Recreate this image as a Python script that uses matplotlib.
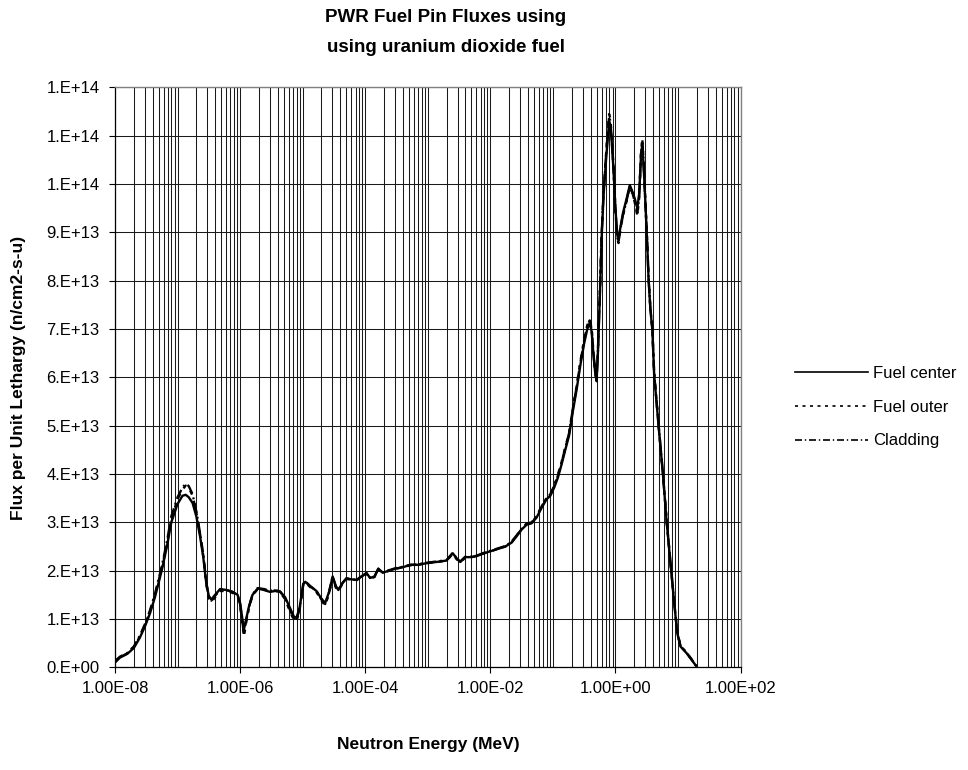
import numpy as np
import matplotlib
matplotlib.use("Agg")
import matplotlib.pyplot as plt
from matplotlib.ticker import FixedLocator, LogLocator, MultipleLocator, FuncFormatter, NullFormatter

plt.rcParams['font.family'] = ['Liberation Sans', 'DejaVu Sans']

# Neutron energy grid (MeV)
energy = [
    1.00e-08, 1.20e-08, 1.58e-08, 2.00e-08, 2.51e-08, 3.02e-08, 3.63e-08, 4.37e-08,
    5.62e-08, 6.76e-08, 7.94e-08, 1.00e-07, 1.20e-07, 1.35e-07, 1.51e-07, 1.74e-07,
    2.00e-07, 2.29e-07, 2.57e-07, 2.88e-07, 3.16e-07, 3.47e-07, 3.98e-07, 4.79e-07,
    6.03e-07, 7.59e-07, 9.12e-07, 1.00e-06, 1.10e-06, 1.15e-06, 1.23e-06, 1.38e-06,
    1.58e-06, 1.91e-06, 2.40e-06, 3.02e-06, 3.63e-06, 4.37e-06, 5.25e-06, 6.31e-06,
    7.24e-06, 7.94e-06, 8.91e-06, 1.02e-05, 1.10e-05, 1.32e-05, 1.66e-05, 2.00e-05,
    2.29e-05, 2.63e-05, 3.02e-05, 3.39e-05, 3.72e-05, 4.37e-05, 5.01e-05, 6.03e-05,
    7.24e-05, 8.71e-05, 1.05e-04, 1.20e-04, 1.41e-04, 1.62e-04, 1.91e-04, 2.29e-04,
    3.02e-04, 3.98e-04, 5.25e-04, 6.92e-04, 9.12e-04, 1.20e-03, 1.58e-03, 2.00e-03,
    2.29e-03, 2.51e-03, 2.88e-03, 3.31e-03, 3.98e-03, 5.01e-03, 6.31e-03, 7.94e-03,
    1.00e-02, 1.32e-02, 1.74e-02, 2.19e-02, 2.63e-02, 3.16e-02, 3.80e-02, 4.57e-02,
    5.50e-02, 6.61e-02, 7.94e-02, 9.12e-02, 1.05e-01, 1.20e-01, 1.38e-01, 1.58e-01,
    1.82e-01, 2.09e-01, 2.40e-01, 2.75e-01, 3.16e-01, 3.55e-01, 3.89e-01, 4.17e-01,
    4.47e-01, 4.79e-01, 5.01e-01, 5.25e-01, 5.62e-01, 6.03e-01, 6.46e-01, 7.08e-01,
    7.59e-01, 7.94e-01, 8.32e-01, 8.71e-01, 9.33e-01, 1.00e+00, 1.07e+00, 1.12e+00,
    1.20e+00, 1.32e+00, 1.51e+00, 1.70e+00, 1.86e+00, 2.04e+00, 2.24e+00, 2.40e+00,
    2.57e+00, 2.69e+00, 2.82e+00, 3.02e+00, 3.24e+00, 3.39e+00, 3.63e+00, 3.89e+00,
    4.17e+00, 4.90e+00, 5.75e+00, 6.61e+00, 7.59e+00, 8.71e+00, 9.77e+00, 1.10e+01,
    1.38e+01, 1.66e+01, 1.95e+01,
]

# Flux per unit lethargy, units of 1e13 n/cm2-s-u
fuel_center = [
    0.10, 0.20, 0.28, 0.40, 0.62, 0.85, 1.12, 1.46,
    2.02, 2.50, 3.00, 3.38, 3.55, 3.57, 3.52, 3.40,
    3.12, 2.71, 2.29, 1.74, 1.48, 1.40, 1.50, 1.62,
    1.60, 1.56, 1.50, 1.33, 0.95, 0.78, 0.95, 1.25,
    1.50, 1.63, 1.60, 1.56, 1.58, 1.56, 1.45, 1.22,
    1.05, 1.02, 1.22, 1.72, 1.77, 1.68, 1.58, 1.42,
    1.33, 1.55, 1.88, 1.68, 1.60, 1.75, 1.84, 1.82,
    1.81, 1.88, 1.95, 1.85, 1.88, 2.04, 1.96, 1.99,
    2.04, 2.07, 2.12, 2.12, 2.15, 2.17, 2.19, 2.21,
    2.30, 2.36, 2.26, 2.18, 2.28, 2.28, 2.31, 2.36,
    2.40, 2.45, 2.50, 2.58, 2.71, 2.85, 2.95, 2.98,
    3.10, 3.30, 3.48, 3.55, 3.72, 3.92, 4.20, 4.50,
    4.80, 5.30, 5.75, 6.25, 6.70, 7.00, 7.13, 6.95,
    6.45, 6.05, 5.95, 6.50, 7.60, 8.90, 9.75, 10.50,
    11.00, 11.30, 11.20, 10.90, 10.30, 9.50, 8.95, 8.85,
    9.10, 9.40, 9.70, 9.98, 9.85, 9.70, 9.50, 9.80,
    10.60, 10.80, 10.40, 9.60, 8.70, 8.03, 7.40, 7.00,
    6.05, 5.00, 4.00, 3.00, 2.16, 1.33, 0.70, 0.43,
    0.29, 0.15, 0.03,
]

fuel_outer = [
    0.12, 0.21, 0.29, 0.42, 0.64, 0.88, 1.15, 1.50,
    2.06, 2.55, 3.06, 3.48, 3.68, 3.76, 3.72, 3.55,
    3.20, 2.76, 2.32, 1.72, 1.42, 1.35, 1.45, 1.58,
    1.58, 1.54, 1.47, 1.28, 0.85, 0.63, 0.88, 1.22,
    1.49, 1.62, 1.61, 1.57, 1.59, 1.55, 1.41, 1.15,
    0.98, 0.95, 1.18, 1.70, 1.76, 1.66, 1.56, 1.38,
    1.28, 1.52, 1.86, 1.65, 1.58, 1.74, 1.83, 1.81,
    1.80, 1.87, 1.94, 1.83, 1.87, 2.03, 1.95, 1.99,
    2.04, 2.07, 2.11, 2.12, 2.15, 2.17, 2.19, 2.21,
    2.29, 2.35, 2.24, 2.17, 2.27, 2.28, 2.31, 2.36,
    2.40, 2.45, 2.50, 2.59, 2.72, 2.86, 2.97, 3.00,
    3.12, 3.33, 3.50, 3.58, 3.76, 3.97, 4.25, 4.55,
    4.86, 5.36, 5.82, 6.32, 6.78, 7.08, 7.20, 7.02,
    6.50, 6.08, 5.90, 6.55, 7.70, 9.00, 9.85, 10.62,
    11.15, 11.45, 11.35, 11.00, 10.35, 9.45, 8.88, 8.78,
    9.05, 9.35, 9.65, 9.95, 9.82, 9.62, 9.35, 9.72,
    10.65, 10.95, 10.50, 9.65, 8.74, 8.06, 7.43, 7.02,
    6.08, 5.02, 4.02, 3.02, 2.18, 1.35, 0.72, 0.44,
    0.30, 0.16, 0.03,
]

cladding = [
    0.13, 0.22, 0.30, 0.43, 0.66, 0.90, 1.18, 1.53,
    2.10, 2.60, 3.12, 3.52, 3.72, 3.80, 3.75, 3.58,
    3.22, 2.78, 2.35, 1.76, 1.45, 1.38, 1.48, 1.60,
    1.60, 1.56, 1.49, 1.31, 0.90, 0.70, 0.92, 1.24,
    1.51, 1.64, 1.62, 1.58, 1.60, 1.57, 1.43, 1.18,
    1.01, 0.98, 1.20, 1.72, 1.78, 1.68, 1.58, 1.40,
    1.31, 1.54, 1.88, 1.67, 1.60, 1.75, 1.84, 1.82,
    1.81, 1.88, 1.95, 1.85, 1.88, 2.04, 1.96, 2.00,
    2.05, 2.08, 2.12, 2.13, 2.16, 2.18, 2.20, 2.22,
    2.31, 2.37, 2.26, 2.19, 2.29, 2.29, 2.32, 2.37,
    2.41, 2.46, 2.51, 2.60, 2.73, 2.87, 2.97, 3.00,
    3.12, 3.33, 3.50, 3.58, 3.76, 3.96, 4.24, 4.54,
    4.85, 5.35, 5.80, 6.30, 6.76, 7.06, 7.18, 7.00,
    6.48, 6.07, 5.92, 6.52, 7.66, 8.96, 9.82, 10.58,
    11.10, 11.40, 11.30, 10.96, 10.32, 9.48, 8.90, 8.80,
    9.06, 9.36, 9.66, 9.96, 9.83, 9.64, 9.40, 9.76,
    10.62, 10.90, 10.45, 9.62, 8.72, 8.05, 7.42, 7.01,
    6.07, 5.01, 4.01, 3.01, 2.17, 1.34, 0.71, 0.44,
    0.30, 0.16, 0.03,
]

series_names = ['Fuel center', 'Fuel outer', 'Cladding']
x_tick_values = [1e-8, 1e-6, 1e-4, 1e-2, 1e0, 1e2]

fig = plt.figure(figsize=(9.68, 7.70), dpi=100)
ax = fig.add_axes([115 / 968, 1 - 667.3 / 770, (740.5 - 115) / 968, (667.3 - 87.5) / 770])

scale = 1e13
lw = 1.7
ax.plot(energy, np.array(fuel_center) * scale, color='black', lw=lw,
        linestyle='-', label=series_names[0])
ax.plot(energy, np.array(fuel_outer) * scale, color='black', lw=lw,
        linestyle=(0, (1.8, 2.7)), label=series_names[1])
ax.plot(energy, np.array(cladding) * scale, color='black', lw=lw,
        linestyle=(0, (4.2, 1.7, 0.8, 1.7)), label=series_names[2])

ax.set_xscale('log')
ax.set_xlim(1e-8, 1e2)
ax.set_ylim(0, 1.2e14)

ax.xaxis.set_major_locator(FixedLocator(x_tick_values))
ax.xaxis.set_minor_locator(LogLocator(base=10, subs=np.arange(1, 10), numticks=200))
ax.xaxis.set_major_formatter(FuncFormatter(lambda v, p: f"{v:.2E}"))
ax.xaxis.set_minor_formatter(NullFormatter())

def y_fmt(v, pos):
    m, e = f"{v:.0e}".split('e')
    return f"{m}.E{e[0]}{int(e[1:]):02d}"

ax.yaxis.set_major_locator(MultipleLocator(1e13))
ax.yaxis.set_major_formatter(FuncFormatter(y_fmt))

ax.grid(which='both', axis='x', color='#1a1a1a', lw=0.75)
ax.grid(which='major', axis='y', color='#1a1a1a', lw=0.75)
ax.set_axisbelow(True)

ax.tick_params(axis='x', which='major', direction='out', length=4, width=0.8,
               labelsize=12, pad=6, colors='black')
ax.tick_params(axis='x', which='minor', length=0)
ax.tick_params(axis='y', which='major', direction='out', length=4, width=0.8,
               labelsize=12, pad=7, colors='black')

for side in ('top', 'right'):
    ax.spines[side].set_color('#808080')
    ax.spines[side].set_linewidth(1.0)
for side in ('left', 'bottom'):
    ax.spines[side].set_color('black')
    ax.spines[side].set_linewidth(0.9)

fig.text(446 / 968, 1 - 17 / 770, 'PWR Fuel Pin Fluxes using', ha='center', va='center',
         fontsize=13.5, fontweight='bold')
fig.text(446 / 968, 1 - 47 / 770, 'using uranium dioxide fuel', ha='center', va='center',
         fontsize=13.5, fontweight='bold')
fig.text(428 / 968, 1 - 744 / 770, 'Neutron Energy (MeV)', ha='center', va='center',
         fontsize=12.5, fontweight='bold')
fig.text(19 / 968, 1 - 377.5 / 770, 'Flux per Unit Lethargy (n/cm2-s-u)', ha='center',
         va='center', rotation=90, fontsize=12.5, fontweight='bold')

leg = fig.legend(loc='upper left', bbox_to_anchor=(795 / 968, 1 - 366 / 770), frameon=False,
                 fontsize=12, handlelength=4.4, handletextpad=0.3, labelspacing=1.12,
                 borderpad=0, borderaxespad=0)
for handle in leg.get_lines():
    handle.set_linewidth(1.2)

fig.savefig('out.png', dpi=100, facecolor='white')
